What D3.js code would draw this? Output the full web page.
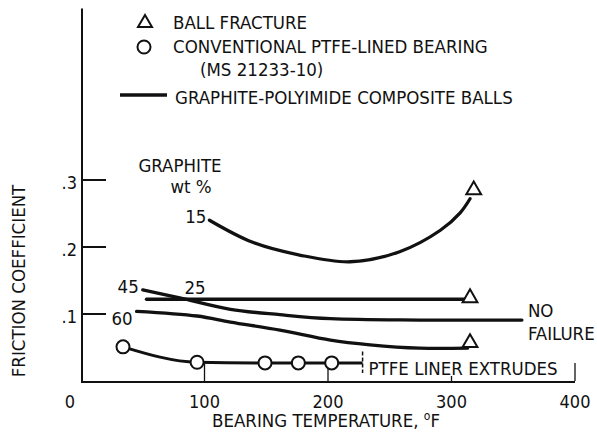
<!DOCTYPE html>
<html>
<head>
<meta charset="utf-8">
<script src="https://cdn.jsdelivr.net/npm/d3@7"></script>
<style>
  html, body { margin: 0; padding: 0; background: #fff; }
  svg text { font-family: "Liberation Sans Narrow", "DejaVu Sans Condensed", "DejaVu Sans", sans-serif; fill: #111; }
</style>
</head>
<body>
<svg id="chart" width="597" height="436"></svg>
<script>
// Friction coefficient vs bearing temperature, graphite-polyimide composite balls
const xTicks = [0, 100, 200, 300, 400];
const yTicks = [0.1, 0.2, 0.3];
const yTickLabels = [".1", ".2", ".3"];

// graphite content (wt %) of each composite-ball curve
const graphiteLabels = ["15", "25", "45", "60"];
const curve15T = [104, 139, 177, 218, 258, 291, 307, 315];
const curve15F = [0.240, 0.207, 0.188, 0.178, 0.193, 0.225, 0.251, 0.272];
const curve25T = [53, 315];
const curve25F = [0.122, 0.122];
const curve45T = [50, 80, 121, 161, 202, 274, 357];
const curve45F = [0.136, 0.124, 0.107, 0.099, 0.093, 0.091, 0.091];
const curve60T = [45, 94, 121, 161, 202, 234, 274, 313];
const curve60F = [0.104, 0.097, 0.088, 0.076, 0.061, 0.054, 0.049, 0.049];

// ball fracture points
const fractureT = [318, 315, 315];
const fractureF = [0.285, 0.124, 0.057];

// conventional PTFE-lined bearing (MS 21233-10)
const ptfeT = [34, 94, 149, 176, 203];
const ptfeF = [0.051, 0.028, 0.027, 0.027, 0.027];
const ptfeEndT = 228;          // liner extrudes beyond this temperature
const ptfeEndF = 0.027;

const svg = d3.select("#chart");
const black = "#111";
const fs = 18.5;

const x = d3.scaleLinear().domain([0, 400]).range([81, 575]);
const y = d3.scaleLinear().domain([0, 0.1]).range([381, 314]);
const yTop = 0.556;

// axes
svg.append("line")
  .attr("x1", x(0) + 1).attr("x2", x(0) + 1)
  .attr("y1", y(0)).attr("y2", y(yTop))
  .attr("stroke", black).attr("stroke-width", 2);
svg.append("line")
  .attr("x1", x(0)).attr("x2", x(400))
  .attr("y1", y(0) + 1).attr("y2", y(0) + 1)
  .attr("stroke", black).attr("stroke-width", 2);

// y ticks and labels
svg.selectAll(".ytick").data(yTicks).join("line")
  .attr("x1", x(0) + 1).attr("x2", x(0) + 25)
  .attr("y1", d => y(d)).attr("y2", d => y(d))
  .attr("stroke", black).attr("stroke-width", 2);
svg.selectAll(".ylab").data(yTicks).join("text")
  .attr("x", x(0) - 4).attr("y", d => y(d) + 9)
  .attr("text-anchor", "end").attr("font-size", 18)
  .text((d, i) => yTickLabels[i]);

// x ticks: 100 and 200 rise up to the PTFE curve
const ptfeLine = d3.line().x(d => x(d[0])).y(d => y(d[1])).curve(d3.curveMonotoneX);
const xTickTop = t => t === 100 || t === 200 ? y(ptfeEndF) : (t === 300 ? y(0) - 5 : y(0) - 18);
svg.selectAll(".xtick").data(xTicks.slice(1)).join("line")
  .attr("x1", d => x(d)).attr("x2", d => x(d))
  .attr("y1", y(0)).attr("y2", d => xTickTop(d))
  .attr("stroke", black).attr("stroke-width", 1.3);
svg.selectAll(".xlab").data(xTicks).join("text")
  .attr("x", d => x(d) + (d === 0 ? -11 : 0)).attr("y", 408)
  .attr("text-anchor", "middle").attr("font-size", 18)
  .text(d => d);

// axis titles
const xTitle = svg.append("text").attr("x", 212).attr("y", 427)
  .attr("font-size", fs);
xTitle.append("tspan").text("BEARING TEMPERATURE,  ");
xTitle.append("tspan").attr("dy", -7).attr("font-size", 12).text("o");
xTitle.append("tspan").attr("dy", 7).text("F");

svg.append("text")
  .attr("transform", "translate(25,281) rotate(-90)")
  .attr("text-anchor", "middle").attr("font-size", fs)
  .text("FRICTION COEFFICIENT");

// composite-ball curves
const smooth = d3.line().x(d => x(d[0])).y(d => y(d[1])).curve(d3.curveCatmullRom.alpha(0.5));
const curves = [
  [curve15T, curve15F],
  [curve25T, curve25F],
  [curve45T, curve45F],
  [curve60T, curve60F]
];
svg.selectAll(".curve").data(curves).join("path")
  .attr("d", c => smooth(c[0].map((t, i) => [t, c[1][i]])))
  .attr("fill", "none").attr("stroke", black).attr("stroke-width", 3.3)
  .attr("stroke-linecap", "round");

// curve labels, placed beside the start of each curve
const labelOffsets = { "15": [-3, 3, "end"], "25": [38, -5, "start"], "45": [-4, 3, "end"], "60": [-4, 14, "end"] };
const curveStart = { "15": 0, "25": 1, "45": 2, "60": 3 };
svg.selectAll(".clab").data(graphiteLabels).join("text")
  .attr("x", d => x(curves[curveStart[d]][0][0]) + labelOffsets[d][0])
  .attr("y", d => y(curves[curveStart[d]][1][0]) + labelOffsets[d][1])
  .attr("text-anchor", d => labelOffsets[d][2]).attr("font-size", fs)
  .text(d => d);

svg.append("text").attr("x", 180).attr("y", 172).attr("text-anchor", "middle")
  .attr("font-size", fs).text("GRAPHITE");
svg.append("text").attr("x", 191).attr("y", 193).attr("text-anchor", "middle")
  .attr("font-size", fs).text("wt %");

// NO FAILURE note at the end of the 45 % curve
svg.append("text").attr("x", x(curve45T[curve45T.length - 1]) + 6).attr("y", 317)
  .attr("font-size", fs).text("NO");
svg.append("text").attr("x", x(curve45T[curve45T.length - 1]) + 6).attr("y", 340)
  .attr("font-size", fs).text("FAILURE");

// fracture triangles
const tri = d3.symbol().type(d3.symbolTriangle).size(95);
svg.selectAll(".tri").data(fractureT).join("path")
  .attr("d", tri)
  .attr("transform", (d, i) => `translate(${x(d)},${y(fractureF[i])})`)
  .attr("fill", "#fff").attr("stroke", black).attr("stroke-width", 2);

// PTFE-lined bearing curve
const ptfePts = ptfeT.map((t, i) => [t, ptfeF[i]]).concat([[ptfeEndT, ptfeEndF]]);
svg.append("path").attr("d", ptfeLine(ptfePts))
  .attr("fill", "none").attr("stroke", black).attr("stroke-width", 3);
svg.append("line")
  .attr("x1", x(ptfeEndT)).attr("x2", x(ptfeEndT))
  .attr("y1", y(0.044)).attr("y2", y(0.012))
  .attr("stroke", black).attr("stroke-width", 1.5).attr("stroke-dasharray", "4,2");
svg.append("text").attr("x", x(ptfeEndT) + 6).attr("y", 375)
  .attr("font-size", fs).text("PTFE LINER EXTRUDES");
svg.selectAll(".circ").data(ptfeT).join("circle")
  .attr("cx", d => x(d)).attr("cy", (d, i) => y(ptfeF[i])).attr("r", 6.5)
  .attr("fill", "#fff").attr("stroke", black).attr("stroke-width", 2);

// legend
const lg = svg.append("g");
lg.append("path").attr("d", d3.symbol().type(d3.symbolTriangle).size(85))
  .attr("transform", "translate(145,23)")
  .attr("fill", "#fff").attr("stroke", black).attr("stroke-width", 2);
lg.append("text").attr("x", 173).attr("y", 29).attr("font-size", fs).text("BALL FRACTURE");
lg.append("circle").attr("cx", 144).attr("cy", 47).attr("r", 6.5)
  .attr("fill", "#fff").attr("stroke", black).attr("stroke-width", 2);
lg.append("text").attr("x", 173).attr("y", 53).attr("font-size", fs).text("CONVENTIONAL PTFE-LINED BEARING");
lg.append("text").attr("x", 200).attr("y", 76).attr("font-size", fs).text("(MS 21233-10)");
lg.append("line").attr("x1", 120).attr("x2", 167).attr("y1", 95).attr("y2", 95)
  .attr("stroke", black).attr("stroke-width", 3.5);
lg.append("text").attr("x", 175).attr("y", 104).attr("font-size", fs).text("GRAPHITE-POLYIMIDE COMPOSITE BALLS");
</script>
</body>
</html>
